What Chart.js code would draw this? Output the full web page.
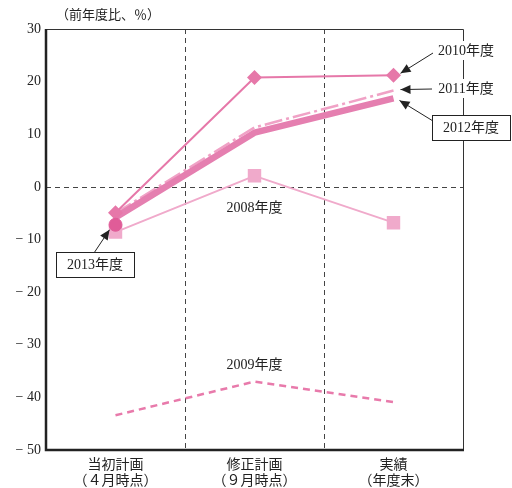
<!DOCTYPE html>
<html><head><meta charset="utf-8">
<script src="https://cdn.jsdelivr.net/npm/chart.js@4/dist/chart.umd.min.js"></script>
<style>html,body{margin:0;padding:0;background:#fff;}#wrap{width:512px;height:488px;}</style>
</head><body><div id="wrap"><canvas id="c" width="512" height="488"></canvas></div>
<script>
const categories = [["当初計画","（４月時点）"],["修正計画","（９月時点）"],["実績","（年度末）"]];
const s2008 = [-8.6, 2.1, -6.8];
const s2009 = [-43.4, -37.0, -40.9];
const s2010 = [-4.9, 20.8, 21.2];
const s2011 = [-5.0, 11.3, 18.3];
const s2012 = [-5.8, 10.3, 16.8];
const s2013 = [-7.2, null, null];
const yTicks = [30, 20, 10, 0, -10, -20, -30, -40, -50];

const FONT = '"Liberation Serif", "Noto Sans CJK JP", serif';

const overlay = {
  id: 'overlay',
  beforeDatasetsDraw(chart) {
    const {ctx, chartArea: a, scales: {x, y}} = chart;
    ctx.save();
    ctx.strokeStyle = '#444';
    ctx.lineWidth = 1;
    ctx.setLineDash([5, 4]);
    for (let i = 0; i < categories.length - 1; i++) {
      const px = Math.round((x.getPixelForValue(i) + x.getPixelForValue(i + 1)) / 2) + 0.5;
      ctx.beginPath(); ctx.moveTo(px, a.top); ctx.lineTo(px, a.bottom); ctx.stroke();
    }
    const py = Math.round(y.getPixelForValue(0)) + 0.5;
    ctx.beginPath(); ctx.moveTo(a.left, py); ctx.lineTo(a.right, py); ctx.stroke();
    ctx.restore();
  },
  afterDraw(chart) {
    const {ctx, chartArea: a, scales: {x, y}} = chart;
    ctx.save();
    ctx.setLineDash([]);
    ctx.strokeStyle = '#333';
    ctx.lineWidth = 1;
    ctx.beginPath();
    ctx.moveTo(a.left, a.top + 0.5); ctx.lineTo(a.right + 0.5, a.top + 0.5); ctx.lineTo(a.right + 0.5, a.bottom);
    ctx.stroke();
    ctx.lineWidth = 2.5;
    ctx.strokeStyle = '#222';
    ctx.beginPath();
    ctx.moveTo(a.left, a.top); ctx.lineTo(a.left, a.bottom); ctx.lineTo(a.right + 1, a.bottom);
    ctx.stroke();

    ctx.fillStyle = '#222';
    ctx.font = '13px ' + FONT;
    ctx.textBaseline = 'middle';
    ctx.textAlign = 'left';
    ctx.fillText('（前年度比、％）', 56, 16);

    function arrow(x1, y1, x2, y2) {
      ctx.strokeStyle = '#222';
      ctx.fillStyle = '#222';
      ctx.lineWidth = 1;
      ctx.beginPath(); ctx.moveTo(x1, y1); ctx.lineTo(x2, y2); ctx.stroke();
      const ang = Math.atan2(y2 - y1, x2 - x1);
      const L = 10, W = 4.5;
      ctx.beginPath();
      ctx.moveTo(x2, y2);
      ctx.lineTo(x2 - L * Math.cos(ang) + W * Math.sin(ang), y2 - L * Math.sin(ang) - W * Math.cos(ang));
      ctx.lineTo(x2 - L * Math.cos(ang) - W * Math.sin(ang), y2 - L * Math.sin(ang) + W * Math.cos(ang));
      ctx.closePath(); ctx.fill();
    }
    function label(t, cx, cy, box, bg) {
      ctx.font = '14px ' + FONT;
      ctx.textAlign = 'center';
      ctx.textBaseline = 'middle';
      if (box) {
        const w = 78;
        ctx.fillStyle = '#fff';
        ctx.fillRect(cx - w / 2, cy - 12, w, 25);
        ctx.strokeStyle = '#222'; ctx.lineWidth = 1;
        ctx.strokeRect(Math.round(cx - w / 2) + 0.5, Math.round(cy - 12) + 0.5, w, 25);
      } else if (bg) {
        const w = ctx.measureText(t).width + 8;
        ctx.fillStyle = '#fff';
        ctx.fillRect(cx - w / 2, cy - 9, w, 19);
      }
      ctx.fillStyle = '#222';
      ctx.fillText(t, cx, cy + 1);
    }
    const x2 = x.getPixelForValue(2), x1 = x.getPixelForValue(1), x0 = x.getPixelForValue(0);
    arrow(433, 53, x2 + 7, y.getPixelForValue(s2010[2]) - 2);
    arrow(432, 89, x2 + 7, y.getPixelForValue(s2011[2]) - 1);
    arrow(433, 121, x2 + 6, y.getPixelForValue(s2012[2]) + 2);
    arrow(94, 253, x0 - 6, y.getPixelForValue(s2013[0]) + 5);
    label('2010年度', 466, 50, false, true);
    label('2011年度', 466, 88, false, true);
    label('2012年度', 471, 127, true);
    label('2013年度', 95, 264, true);
    label('2008年度', x1, 207, false);
    label('2009年度', x1, 364, false);
    ctx.restore();
  }
};

new Chart(document.getElementById('c'), {
  type: 'line',
  data: {
    labels: categories,
    datasets: [
      {label: '2013年度', data: s2013, borderColor: '#e05c98', backgroundColor: '#e05c98', pointStyle: 'circle', pointRadius: 6.5, showLine: false, order: 0},
      {label: '2010年度', data: s2010, borderColor: '#e678a9', backgroundColor: '#e678a9', borderWidth: 2, pointStyle: 'rectRot', pointRadius: 7.5, pointBorderWidth: 0, order: 1},
      {label: '2012年度', data: s2012, borderColor: '#e57fb0', backgroundColor: '#e57fb0', borderWidth: 6.5, pointRadius: 0, order: 2},
      {label: '2011年度', data: s2011, borderColor: '#f0a2c6', backgroundColor: '#f0a2c6', borderWidth: 2.5, borderDash: [18, 4, 3, 4], pointRadius: 0, order: 3},
      {label: '2008年度', data: s2008, borderColor: '#f0aacb', backgroundColor: '#f0aacb', borderWidth: 2, pointStyle: 'rect', pointRadius: 9.5, pointBorderWidth: 0, order: 4},
      {label: '2009年度', data: s2009, borderColor: '#e87aab', backgroundColor: '#e87aab', borderWidth: 2.5, borderDash: [7, 5], pointRadius: 0, order: 5}
    ]
  },
  options: {
    responsive: false,
    animation: false,
    events: [],
    elements: {line: {tension: 0, borderCapStyle: 'butt', borderJoinStyle: 'round'}},
    layout: {padding: {top: 29, right: 49, left: 0, bottom: 0}},
    plugins: {legend: {display: false}, tooltip: {enabled: false}},
    scales: {
      x: {
        offset: true,
        grid: {display: false, drawTicks: false},
        border: {display: false},
        ticks: {color: '#222', padding: 8, font: {family: FONT, size: 14, lineHeight: 1.1}, maxRotation: 0},
        afterFit(s) { s.height = 38; }
      },
      y: {
        min: -50, max: 30,
        afterBuildTicks(s) { s.ticks = yTicks.map(v => ({value: v})); },
        grid: {display: false, drawTicks: false},
        border: {display: false},
        ticks: {color: '#222', padding: 5, font: {family: FONT, size: 14},
          callback: v => v < 0 ? '− ' + Math.abs(v) : String(v)},
        afterFit(s) { s.width = 46; }
      }
    }
  },
  plugins: [overlay]
});
</script></body></html>
